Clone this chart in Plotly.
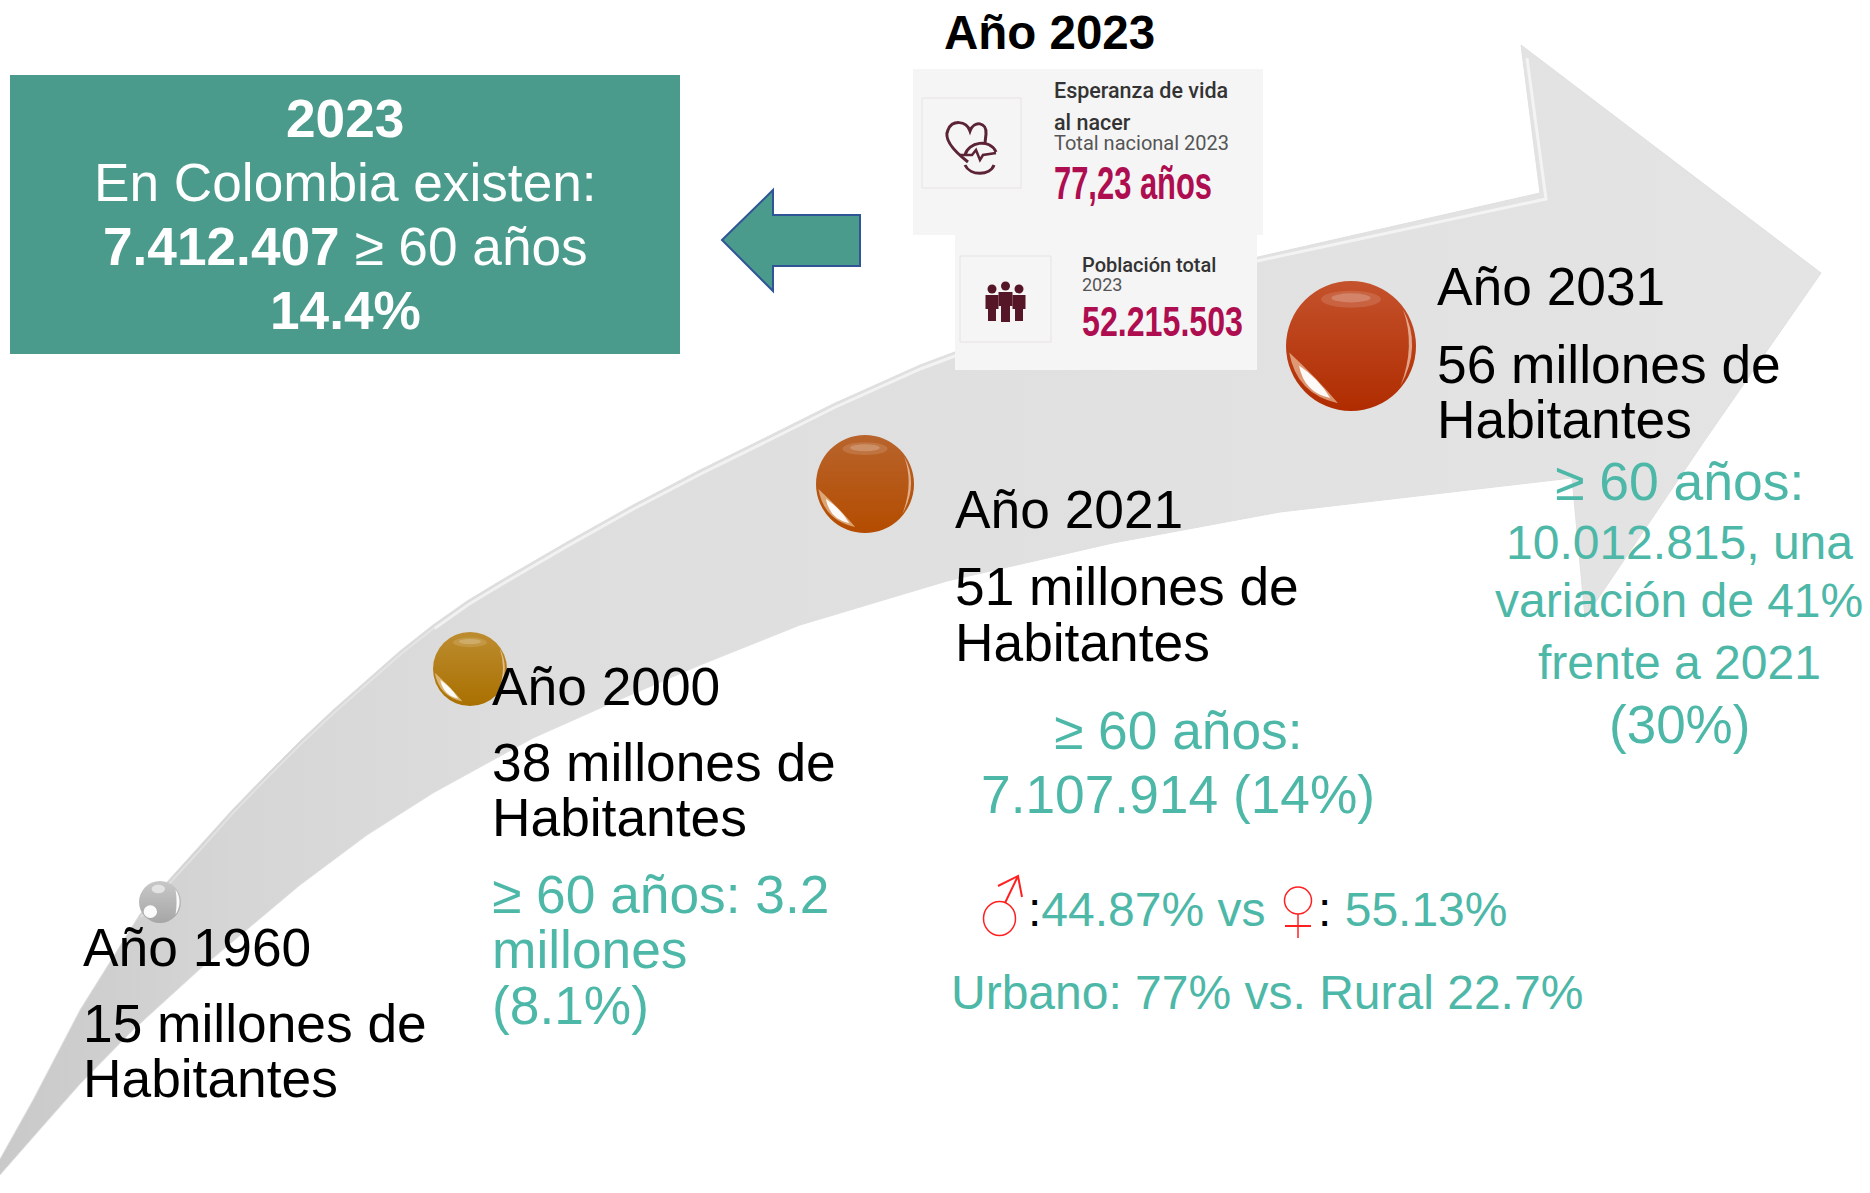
import plotly.graph_objects as go

# ---- content -------------------------------------------------------------
years = ["Año 1960", "Año 2000", "Año 2021", "Año 2031"]
population_line1 = ["15 millones de", "38 millones de", "51 millones de", "56 millones de"]
population_line2 = ["Habitantes", "Habitantes", "Habitantes", "Habitantes"]
teal_2000 = ["≥ 60 años: 3.2", "millones", "(8.1%)"]
teal_2021 = ["≥ 60 años:", "7.107.914 (14%)"]
teal_2031 = ["≥ 60 años:", "10.012.815, una", "variación de 41%", "frente a 2021", "(30%)"]
box_lines = ["<b>2023</b>", "En Colombia existen:", "<b>7.412.407</b> ≥ 60 años", "<b>14.4%</b>"]

# ---- layout geometry (px) -------------------------------------------------
W, H = 1870, 1193
upper_x = [0, 33, 80, 140, 167, 200, 233, 267, 300, 333, 367, 400, 433, 467, 500, 567, 633, 700, 767, 833, 920, 1000,
           1100, 1258, 1540]
upper_y = [1159, 1100, 1010, 914, 882, 846, 809, 774, 741, 710, 680, 651, 625, 601, 581, 542, 505, 470, 437, 404, 365,
           335, 300, 257, 193]
head_x = [1521, 1821, 1705, 1585, 1572]
head_y = [45, 273, 440, 618, 478]
lower_x = [1280, 1113, 947, 800, 700, 607, 533, 433, 367, 300, 250, 200, 133, 80, 50, 0]
lower_y = [512, 543, 581, 625, 665, 705, 738, 793, 835, 885, 927, 969, 1030, 1084, 1118, 1175]
arrow_x = upper_x + head_x + lower_x
arrow_y = upper_y + head_y + lower_y

sphere_x = [160, 470, 865, 1351]
sphere_y = [902, 669, 484, 346]
sphere_d = [42, 74, 98, 130]
sphere_top = ["#c8c8c8", "#bd8c30", "#b8642c", "#c4522c"]
sphere_bottom = ["#a6a6a6", "#a97000", "#b44c00", "#b02c00"]

TEAL = "#4db8a8"
BLACK = "#000000"
ARIAL = "Liberation Sans"
fig = go.Figure()

fig.add_trace(go.Scatter(x=arrow_x, y=arrow_y, mode="lines", fill="toself",
                         fillgradient=dict(type="horizontal",
                                           colorscale=[[0, "#c9c9c9"], [0.12, "#d5d5d5"], [0.3, "#dedede"],
                                                       [1, "#e4e4e4"]]),
                         line=dict(color="#e0e0e0", width=1), hoverinfo="skip", showlegend=False))
# pale bevel just inside the top edge of the arrow
fig.add_trace(go.Scatter(x=[a + 1 for a in upper_x[3:13]], y=[b + 3 for b in upper_y[3:13]],
                         mode="lines", line=dict(color="rgba(255,255,255,0.3)", width=2),
                         hoverinfo="skip", showlegend=False))
fig.add_trace(go.Scatter(x=[a + 1.5 for a in upper_x[12:-1]] + [1546, 1527],
                         y=[b + 3.5 for b in upper_y[12:-1]] + [199, 58],
                         mode="lines", line=dict(color="rgba(255,255,255,0.6)", width=3),
                         hoverinfo="skip", showlegend=False))

for x, y, d, top, bottom in zip(sphere_x, sphere_y, sphere_d, sphere_top, sphere_bottom):
    fig.add_trace(go.Scatter(x=[x], y=[y], mode="markers",
                             marker=dict(size=d, color=top, line=dict(width=0),
                                         gradient=dict(type="vertical", color=bottom)),
                             hoverinfo="skip", showlegend=False))

shapes = []


def rect(x0, y0, x1, y1, fill, line=None, lw=1):
    shapes.append(dict(type="rect", x0=x0, y0=y0, x1=x1, y1=y1, fillcolor=fill,
                       line=dict(color=line or fill, width=lw if line else 0), layer="above"))


def path(p, fill=None, line=None, lw=1, op=1):
    shapes.append(dict(type="path", path=p, fillcolor=fill or "rgba(0,0,0,0)",
                       line=dict(color=line or "rgba(0,0,0,0)", width=lw if line else 0), opacity=op, layer="above"))


def ell(cx, cy, rx, ry, fill=None, line=None, lw=1, op=1):
    shapes.append(dict(type="circle", x0=cx - rx, x1=cx + rx, y0=cy - ry, y1=cy + ry,
                       fillcolor=fill or "rgba(0,0,0,0)",
                       line=dict(color=line or "rgba(0,0,0,0)", width=lw if line else 0), opacity=op, layer="above"))


# sphere gloss
for i, (x, y, d) in enumerate(zip(sphere_x, sphere_y, sphere_d)):
    r = d / 2
    if i == 0:
        ell(x - .08 * r, y - .62 * r, .32 * r, .2 * r, "#ffffff", op=.55)
        ell(x - .46 * r, y + .46 * r, .32 * r, .3 * r, "#ffffff", op=.95)
        path(f"M {x+.74*r},{y-.6*r} Q {x+1.12*r},{y} {x+.74*r},{y+.6*r} Q {x+.84*r},{y} {x+.74*r},{y-.6*r} Z",
             "#ffffff", op=.95)
    else:
        ell(x, y - .72 * r, .46 * r, .13 * r, "#ffffff", op=.13)
        ell(x, y - .74 * r, .3 * r, .07 * r, "#ffffff", op=.2)
        path(f"M {x+.8*r},{y-.56*r} Q {x+1.1*r},{y} {x+.76*r},{y+.62*r} Q {x+1.0*r},{y} {x+.8*r},{y-.56*r} Z",
             "#ffe9d8", op=.6)
        path(f"M {x-.95*r},{y+.1*r} Q {x-.84*r},{y+.74*r} {x-.2*r},{y+.88*r} "
             f"Q {x-.52*r},{y+.5*r} {x-.95*r},{y+.1*r} Z", "#ffe8c8", op=.55)
        path(f"M {x-.8*r},{y+.3*r} Q {x-.72*r},{y+.72*r} {x-.32*r},{y+.8*r} "
             f"Q {x-.5*r},{y+.5*r} {x-.8*r},{y+.3*r} Z", "#ffffff", op=.95)

# teal box and arrow
rect(10, 75, 680, 354, "#4a9b8c")
path("M 722,240 L 773,190 L 773,215 L 860,215 L 860,266 L 773,266 L 773,291 Z", "#4a9b8c", "#2f5597", 2)

# cards
rect(913, 69, 1263, 235, "#f5f5f5")
rect(955, 235, 1257, 370, "#f5f5f5")
rect(922, 98, 1021, 188, "#f5f5f5", "#e6e2e3", 1)
rect(960, 256, 1051, 342, "#f5f5f5", "#e6e2e3", 1)

# heart icon
MAROON = "#5b2333"
path("M 968,162 C 950,148 944,138 948,130 C 952,120 966,120 970,131 C 974,120 987,122 986,134 L 985,143", None, MAROON, 3)
path("M 965,155 C 968,142 990,138 996,152", None, MAROON, 3)
path("M 965,165 C 970,176 990,176 994,165", None, MAROON, 3)
path("M 960,155 L 972,155 L 976,150 L 980,160 L 983,155 L 996,153", None, MAROON, 2.5)
# people icon
PEOPLE = "#551728"
for cx, top, bot, hw in [(992, 294, 321, 6.5), (1005.5, 291, 322, 7), (1019, 294, 321, 6.5)]:
    ell(cx, top - 5, 4.5, 4.5, PEOPLE)
    path(f"M {cx-hw},{top+1} L {cx+hw},{top+1} L {cx+hw},{top+15} L {cx+hw-2.5},{top+15} L {cx+hw-2.5},{bot} "
         f"L {cx-hw+2.5},{bot} L {cx-hw+2.5},{top+15} L {cx-hw},{top+15} Z", PEOPLE)

# male / female symbols
RED = "#ff2020"
ell(999.5, 918.5, 16, 17, None, RED, 1.5)
path("M 1005,903 L 1018,876 M 998,886 L 1018,876 L 1022,897", None, RED, 2)
ell(1298, 900.5, 13.5, 13.5, None, RED, 1.5)
path("M 1298,914 L 1298,938", None, RED, 1.5)
path("M 1285,926 L 1311,926", None, RED, 2)

ann = []


def text(x, y, s, size=53.3, color=BLACK, anchor="left", family=ARIAL, weight=400):
    dx, dy = (-2.5, -1.5) if anchor == "left" else (0, 0)
    ann.append(dict(x=x + dx, y=y + dy, text=s, xref="x", yref="y", showarrow=False, xanchor=anchor, yanchor="middle",
                    align=anchor, font=dict(family=family, size=size, color=color, weight=weight)))


# timeline
year_pos = [(83.5, 948.5), (492.5, 688), (955, 511), (1437, 288)]
pop1_y = [1025, 764, 588, 366]
pop2_y = [1080, 819, 644, 421]
for (x, y), s, a, b, y1, y2 in zip(year_pos, years, population_line1, population_line2, pop1_y, pop2_y):
    text(x, y, s)
    text(x, y1, a)
    text(x, y2, b)

for s, y in zip(teal_2000, [896, 951, 1007]):
    text(492.5, y, s, color=TEAL)
for s, y in zip(teal_2021, [730, 794]):
    text(1178, y, s, color=TEAL, anchor="center")
for s, y, z in zip(teal_2031, [481, 542.5, 600.5, 662, 724], [53.5, 48, 48, 48, 53]):
    text(1679, y, s, size=z, color=TEAL, anchor="center")

text(1028, 911, "<span style='color:#000000'>:</span>44.87% vs", size=48, color=TEAL)
text(1318, 911, "<span style='color:#000000'>:</span> 55.13%", size=48, color=TEAL)
text(951, 994, "Urbano: 77% vs. Rural 22.7%", size=48, color=TEAL)

for s, y in zip(box_lines, [118, 182, 246.5, 310]):
    text(345, y, s, color="#ffffff", anchor="center", size=53.2)

text(944, 34, "<b>Año 2023</b>", size=47.5)
text(1054, 92, "Esperanza de vida", size=21.5, color="#333333", family="Roboto", weight=500)
text(1054, 123.5, "al nacer", size=21.5, color="#333333", family="Roboto", weight=500)
text(1054, 144.5, "Total nacional 2023", size=20, color="#555555", family="Roboto")
text(1054, 184, "77,23 años", size=46, color="#ae0d50", weight=700)
text(1082, 266.5, "Población total", size=20, color="#333333", family="Roboto", weight=500)
text(1082, 286, "2023", size=18, color="#555555", family="Roboto")
text(1082, 323, "52.215.503", size=42, color="#ae0d50", weight=700)

fig.update_layout(width=W, height=H, margin=dict(l=0, r=0, t=0, b=0), paper_bgcolor="#ffffff",
                  plot_bgcolor="#ffffff", showlegend=False, shapes=shapes, annotations=ann,
                  xaxis=dict(range=[0, W], visible=False, fixedrange=True),
                  yaxis=dict(range=[H, 0], visible=False, fixedrange=True))

# the two condensed figures on the cards: no condensed face is installed, so squeeze the real text
squeeze = """
document.body.style.margin='0';document.body.style.overflow='hidden';
var widths={'77,23 años':158,'52.215.503':161};
document.querySelectorAll('text.annotation-text').forEach(function(t){
  var w=widths[t.textContent];
  if(w){t.setAttribute('textLength',w);t.setAttribute('lengthAdjust','spacingAndGlyphs');}
});
"""
fig.write_html("out.html", config=dict(displayModeBar=False), post_script=squeeze)
